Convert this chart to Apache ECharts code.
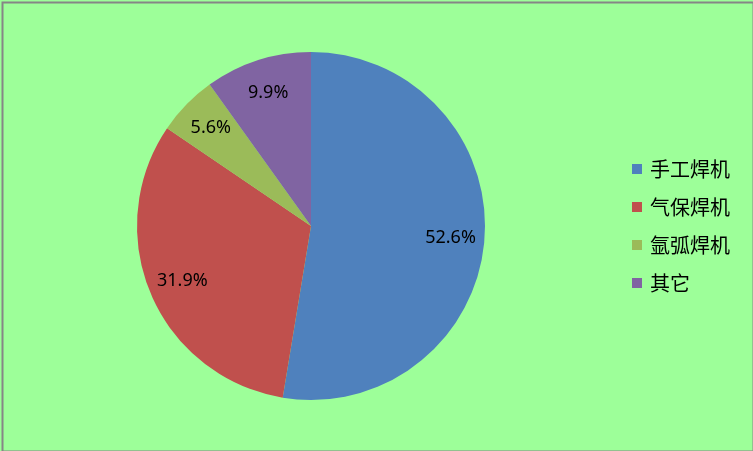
<!DOCTYPE html>
<html><head><meta charset="utf-8">
<script src="https://cdn.jsdelivr.net/npm/echarts@6/dist/echarts.min.js"></script>
<style>html,body{margin:0;padding:0;}#c{width:753px;height:451px;}</style>
</head><body><div id="c"></div>
<script>
const categories = ['手工焊机', '气保焊机', '氩弧焊机', '其它'];
const values = [52.6, 31.9, 5.6, 9.9];
const colors = ['#4F81BD', '#C0504D', '#9BBB59', '#8064A2'];

const chart = echarts.init(document.getElementById('c'));
const data = categories.map((n, i) => ({ name: n, value: values[i] }));
chart.setOption({
  backgroundColor: '#9DFF99',
  color: colors,
  animation: false,
  graphic: [{
    type: 'rect', left: 0, top: 0, z: 100, silent: true,
    shape: { x: 1, y: 1, width: 751, height: 449 },
    style: { fill: 'none', stroke: '#868686', lineWidth: 2 }
  }],
  legend: {
    orient: 'vertical', left: 627, top: 154,
    itemWidth: 10, itemHeight: 10, itemGap: 18,
    icon: 'rect',
    textStyle: { fontSize: 20, lineHeight: 20, color: '#000', fontFamily: '"Noto Sans CJK SC", sans-serif', padding: [0, 0, 0, 3] },
    data: categories
  },
  series: [{
    type: 'pie', center: [311, 226], radius: [0, 174],
    startAngle: 90, clockwise: true, silent: true,
    label: { show: false }, labelLine: { show: false },
    data: data
  }, {
    type: 'pie', center: [311, 226], radius: [100, 174],
    startAngle: 90, clockwise: true, silent: true,
    itemStyle: { color: 'transparent' },
    label: { show: true, position: 'inside', formatter: p => p.value.toFixed(1) + '%', fontSize: 18, color: '#000', fontFamily: '"Noto Sans", sans-serif' },
    labelLine: { show: false },
    data: data
  }]
});
</script></body></html>
